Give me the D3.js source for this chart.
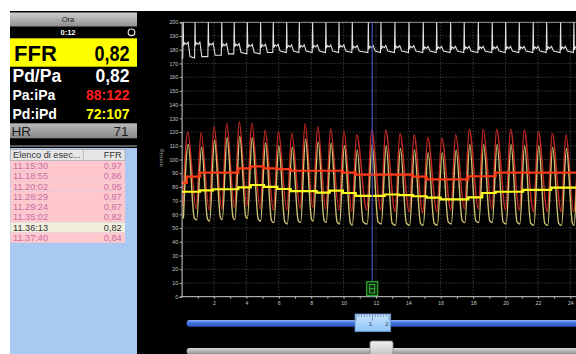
<!DOCTYPE html>
<html><head><meta charset="utf-8">
<script src="https://cdn.jsdelivr.net/npm/d3@7"></script>
<style>
html,body{margin:0;padding:0;background:#fff;}
svg{display:block;font-family:"Liberation Sans",Arial,Helvetica,sans-serif;}
</style></head><body>
<svg id="c" width="576" height="354"></svg>
<script>
// ---------------- DATA ----------------
// pressure-peak time of every beat (s)
const beatTimes = [0.38,1.20,2.00,2.78,3.56,4.33,5.15,5.97,6.80,7.62,8.40,9.20,10.02,10.81,11.73,12.60,13.48,14.35,15.19,16.06,16.92,17.76,18.62,19.45,20.31,21.15,22.02,22.88,23.73,24.50];
// ECG R-wave times (s)
const ecgR = [0.10,0.83,1.65,2.48,3.25,4.06,4.88,5.66,6.49,7.27,8.09,8.91,9.72,10.54,11.53,12.31,13.17,14.04,14.92,15.75,16.61,17.45,18.32,19.18,20.01,20.85,21.71,22.54,23.40,24.22];
const ecgBase = [174,174,175,176,177,177,177,178,178,178,178,178,178,178,178,178,178,178,178,178,178,178,178,178,178,178,178,178,178,178];
const ecgT    = [185,185,184.5,184,184,183.5,183.5,183.5,183,183,183,183,183,182.5,182.5,182.5,182.5,182.5,182,182,182,182,182,182,182,182,182,182,182,182];
// Pa (aortic) systolic / diastolic per beat
const paSys = [120,119.5,124,126.5,127.5,126.5,121.5,120.5,119,126,124,122.5,120.5,118,121.5,121.5,119,118,116,115.5,118,122,122,122,122,121.5,120.5,119,118,118];
const paDia = [66,64,63,64,65,66,64,63,63,64,65,64,63,62,63,63,62,62,61,62,63,64,64,64,63,63,62,62,62,62];
// Pd (distal) systolic / diastolic per beat
const pdSys = [111,109,114,116,117,116,112,110,109,115,113,112,110,107,111,110,108,107,105,105,107,111,111,111,111,110,110,109,108,108];
const pdDia = [57,56,55,56,56,57,55,54,53,54,55,54,53,52,53,53,52,52,52,52,53,54,54,54,53,53,52,52,52,52];
// running means (value after each beat)
const paMeanStart = 83;
const paMean = [87.5,90.5,90.5,90.5,93.5,95,93.5,93,91.8,91.8,91.8,91.8,90.5,89,89,89,89,87.5,85.5,85.5,85.5,87.8,87.8,90.5,90.5,90.5,90.5,90.5,90.5,90.5];
const pdMeanStart = 76.5;
const pdMean = [76.5,77.5,78.3,78.3,79.7,81.4,80,78.5,77,77,75.8,77.3,75.6,73.5,73.5,74.5,74,73.2,72.2,71,71,72.4,75.6,76.5,76.5,77.8,77.8,79.5,79.5,79.5];
const cursorTime = 11.77;
const xTickLabels = [2,4,6,8,10,12,14,16,18,20,22,24];
const yTickLabels = [0,10,20,30,40,50,60,70,80,90,100,110,120,130,140,150,160,170,180,190,200];
const yAxisTitle = "mmHg";
// side panel
const headerLabel = "Ora", timeLabel = "0:12";
const ffrLabel = "FFR", ffrValue = "0,82";
const metricLabels = ["Pd/Pa","Pa:iPa","Pd:iPd"];
const metricValues = ["0,82","88:122","72:107"];
const hrLabel = "HR", hrValue = "71";
const listHeader = ["Elenco di esec...","FFR"];
const runTimes = ["11.15:30","11.18:55","11.20:02","11.28:29","11.29:24","11.35:02","11.36:13","11.37:40"];
const runFFR = ["0,97","0,86","0,95","0,87","0,87","0,82","0,82","0,84"];
const selectedRun = 6;

// ---------------- DRAW ----------------
const svg = d3.select("#c");
const defs = svg.append("defs");
function grad(id, stops){
  const g = defs.append("linearGradient").attr("id",id).attr("x1",0).attr("y1",0).attr("x2",0).attr("y2",1);
  stops.forEach(s=>g.append("stop").attr("offset",s[0]).attr("stop-color",s[1]));
}
grad("gHdr",[[0,"#cfcfcf"],[1,"#8f8f8f"]]);
grad("gHr",[[0,"#b8b8b8"],[1,"#8a8a8a"]]);
grad("gBlue",[[0,"#9cb8f4"],[0.35,"#4a78e4"],[1,"#2a52c0"]]);
grad("gGray",[[0,"#d8d8d8"],[1,"#8c8c8c"]]);
grad("gThumb",[[0,"#f2f2f2"],[1,"#bdbdbd"]]);
grad("gRuler",[[0,"#c8e4fc"],[1,"#8ec2f4"]]);

svg.append("rect").attr("x",10).attr("y",11).attr("width",566).attr("height",343).attr("fill","#000");

// ---- left panel ----
const P = svg.append("g");
P.append("rect").attr("x",10).attr("y",12.5).attr("width",127).attr("height",14).attr("fill","url(#gHdr)");
P.append("text").attr("x",68).attr("y",22.3).attr("text-anchor","middle").attr("font-size",7.5).attr("fill","#1a1a1a").text(headerLabel);
P.append("text").attr("x",68).attr("y",35.3).attr("text-anchor","middle").attr("font-size",7.5).attr("font-weight","bold").attr("fill","#fff").text(timeLabel);
P.append("circle").attr("cx",131.5).attr("cy",32.3).attr("r",3.3).attr("fill","none").attr("stroke","#e6e6e6").attr("stroke-width",1.2);
P.append("rect").attr("x",10).attr("y",38.3).attr("width",127).attr("height",28.4).attr("fill","#ffff00");
P.append("text").attr("x",14).attr("y",61.3).attr("font-size",22).attr("font-weight","bold").attr("fill","#000").text(ffrLabel);
P.append("text").attr("x",94.5).attr("y",61.3).attr("font-size",22).attr("font-weight","bold").attr("fill","#000")
  .attr("textLength",35).attr("lengthAdjust","spacingAndGlyphs").text(ffrValue);
const mColors = ["#ffffff","#ff1e1e","#ffff00"];
const mY = [81.7,100.3,119];
const mSize = [17.5,14,14];
metricLabels.forEach((l,i)=>{
  P.append("text").attr("x",12.5).attr("y",mY[i]).attr("font-size",mSize[i]).attr("font-weight","bold").attr("fill","#fff").text(l);
  P.append("text").attr("x",129.5).attr("y",mY[i]).attr("text-anchor","end").attr("font-size",mSize[i]).attr("font-weight","bold").attr("fill",mColors[i]).text(metricValues[i]);
});
P.append("rect").attr("x",10).attr("y",123.3).attr("width",127).attr("height",15).attr("fill","url(#gHr)");
P.append("text").attr("x",11.5).attr("y",135.5).attr("font-size",13.5).attr("fill","#1e1e1e").text(hrLabel);
P.append("text").attr("x",128.5).attr("y",135.5).attr("text-anchor","end").attr("font-size",13.5).attr("fill","#1e1e1e").text(hrValue);
P.append("rect").attr("x",10).attr("y",145.3).attr("width",127).attr("height",1.5).attr("fill","#7a7a7a");
// list
P.append("rect").attr("x",10).attr("y",148).attr("width",127).attr("height",206).attr("fill","#a9c9f3");
P.append("rect").attr("x",10.5).attr("y",149.3).attr("width",114.5).attr("height",11.4).attr("fill","#e6e6e6").attr("stroke","#9a9a9a").attr("stroke-width",0.6);
P.append("line").attr("x1",83.3).attr("x2",83.3).attr("y1",149.3).attr("y2",160.7).attr("stroke","#9a9a9a").attr("stroke-width",0.6);
P.append("text").attr("x",13).attr("y",158.2).attr("font-size",9.2).attr("fill","#333").text(listHeader[0]);
P.append("text").attr("x",121.7).attr("y",158.2).attr("text-anchor","end").attr("font-size",9.2).attr("fill","#333").text(listHeader[1]);
const rowH = 10.24, row0 = 160.9;
runTimes.forEach((t,i)=>{
  const sel = i===selectedRun;
  P.append("rect").attr("x",10.5).attr("y",row0+i*rowH).attr("width",114.5).attr("height",rowH).attr("fill", sel?"#f1eedc":"#ffc8cd");
  const c = sel?"#303030":"#c56fa6";
  P.append("text").attr("x",13).attr("y",row0+i*rowH+8.3).attr("font-size",9.2).attr("fill",c).text(t);
  P.append("text").attr("x",121.7).attr("y",row0+i*rowH+8.3).attr("text-anchor","end").attr("font-size",9.2).attr("fill",c).text(runFFR[i]);
});

// ---- chart ----
const x = d3.scaleLinear().domain([0,24.35]).range([181.6,576]);
const y = d3.scaleLinear().domain([0,200]).range([296.7,22.3]);
defs.append("clipPath").attr("id","plot").append("rect")
  .attr("x",x(0)).attr("y",y(200)-1).attr("width",x(24.35)-x(0)).attr("height",y(0)-y(200)+1);
const G = svg.append("g");
// grid
G.append("g").selectAll("line").data(yTickLabels.filter(v=>v>0&&v<200)).join("line")
  .attr("x1",x(0)).attr("x2",x(24.35)).attr("y1",d=>y(d)).attr("y2",d=>y(d))
  .attr("stroke","#6a6a6a").attr("stroke-width",0.8).attr("stroke-dasharray","1,2");
G.append("g").selectAll("line").data(xTickLabels).join("line")
  .attr("x1",d=>x(d)).attr("x2",d=>x(d)).attr("y1",y(0)).attr("y2",y(200))
  .attr("stroke","#6a6a6a").attr("stroke-width",0.8).attr("stroke-dasharray","1,2");
G.append("line").attr("x1",x(0)).attr("x2",x(24.35)).attr("y1",y(200)).attr("y2",y(200)).attr("stroke","#9a9a9a").attr("stroke-width",1);

const W = G.append("g").attr("clip-path","url(#plot)");
// Pa waveform
const paPts = [];
beatTimes.forEach((t,i)=>{ paPts.push([t-0.30, paDia[i]]); paPts.push([t, paSys[i]]); });
const pdPts = [];
beatTimes.forEach((t,i)=>{
  pdPts.push([t-0.27, pdDia[i]]);
  pdPts.push([t+0.03, pdSys[i]]);
  const nd = i+1<pdDia.length ? pdDia[i+1] : pdDia[i];
  pdPts.push([t+0.40, nd+1.5]);
});
const ln = d3.line().x(d=>x(d[0])).y(d=>y(d[1]));
W.append("path").attr("d", ln.curve(d3.curveMonotoneX)(paPts)).attr("fill","none").attr("stroke","#c42a22").attr("stroke-width",1.5);
W.append("path").attr("d", ln.curve(d3.curveMonotoneX)(pdPts)).attr("fill","none").attr("stroke","#e2d47c").attr("stroke-width",1.4).attr("opacity",0.92);
// means
const stepLine = d3.line().x(d=>x(d[0])).y(d=>y(d[1])).curve(d3.curveStepAfter);
const paM = [[0,paMeanStart]].concat(beatTimes.map((t,i)=>[t-0.06,paMean[i]])).concat([[25,paMean[paMean.length-1]]]);
const pdM = [[0,pdMeanStart]].concat(beatTimes.map((t,i)=>[t-0.06,pdMean[i]])).concat([[25,pdMean[pdMean.length-1]]]);
W.append("path").attr("d",stepLine(paM)).attr("fill","none").attr("stroke","#ff3a16").attr("stroke-width",2.2);
W.append("path").attr("d",stepLine(pdM)).attr("fill","none").attr("stroke","#ffff1e").attr("stroke-width",2.2);
// ECG
const ecgPts = [[-0.2, ecgBase[0]]];
ecgR.forEach((r,i)=>{
  const b = ecgBase[i], T = ecgT[i];
  ecgPts.push([r-0.03,b],[r,200],[r+0.025,T-2],[r+0.1,T],[r+0.2,T-1],[r+0.3,T+0.5],[r+0.42,b+1]);
});
W.append("path").attr("d", ln.curve(d3.curveLinear)(ecgPts)).attr("fill","none").attr("stroke","#e2e2e2").attr("stroke-width",1.1);

// axes
const yAxis = G.append("g").attr("transform",`translate(${x(0)},0)`)
  .call(d3.axisLeft(y).tickValues(yTickLabels).tickSize(2).tickPadding(1.5));
const xAxis = G.append("g").attr("transform",`translate(0,${y(0)})`)
  .call(d3.axisBottom(x).tickValues(d3.range(1,25)).tickSize(2).tickPadding(2.5).tickFormat(d=>xTickLabels.includes(d)?d:""));
[yAxis,xAxis].forEach(a=>{
  a.selectAll("path.domain").attr("stroke","#d0d0d0").attr("stroke-width",1);
  a.selectAll(".tick line").attr("stroke","#bbbbbb");
  a.selectAll("text").attr("fill","#c8c8c8").attr("font-size",5.2).attr("font-family","'Liberation Sans',Arial,sans-serif");
});
xAxis.select("path.domain").attr("d",`M${x(0)},0H${x(24.35)}`);
G.append("text").attr("transform",`translate(163,158) rotate(-90)`).attr("text-anchor","middle")
  .attr("font-size",6).attr("fill","#9a9a9a").text(yAxisTitle);

// cursor
const cx = x(cursorTime);
G.append("line").attr("x1",cx).attr("x2",cx).attr("y1",y(200)).attr("y2",y(0)).attr("stroke","#4c4eb4").attr("stroke-width",1.2);
G.append("rect").attr("x",cx-5.5).attr("y",281.7).attr("width",11).attr("height",14).attr("fill","#0b2a0b").attr("stroke","#2fcf2f").attr("stroke-width",1);
G.append("rect").attr("x",cx-2.5).attr("y",284.5).attr("width",5).attr("height",8.5).attr("fill","none").attr("stroke","#49d649").attr("stroke-width",0.8);
G.append("line").attr("x1",cx-2.5).attr("x2",cx+2.5).attr("y1",288.7).attr("y2",288.7).attr("stroke","#49d649").attr("stroke-width",0.8);

// sliders
const S = svg.append("g");
S.append("rect").attr("x",186.7).attr("y",320).attr("width",400).attr("height",6.7).attr("rx",3).attr("fill","url(#gBlue)");
S.append("rect").attr("x",355).attr("y",314).attr("width",35.7).attr("height",17.7).attr("fill","url(#gRuler)").attr("stroke","#5d8fcf").attr("stroke-width",0.8);
const rs = d3.scaleLinear().domain([0,2]).range([356,389]);
d3.range(0,2.0001,1/6).forEach(v=>{
  const major = Math.abs(v-Math.round(v))<1e-6;
  S.append("line").attr("x1",rs(v)).attr("x2",rs(v)).attr("y1",314.5).attr("y2",314.5+(major?6:2.5)).attr("stroke","#3c5c94").attr("stroke-width",0.6);
});
[1,2].forEach(v=>S.append("text").attr("x",rs(v)-2).attr("y",326).attr("text-anchor","middle").attr("font-size",6).attr("fill","#2c4070").text(v));
S.append("rect").attr("x",186.7).attr("y",348).attr("width",400).attr("height",6.5).attr("rx",3).attr("fill","url(#gGray)");
S.append("rect").attr("x",370).attr("y",341).attr("width",23).attr("height",16).attr("rx",2).attr("fill","url(#gThumb)").attr("stroke","#8a8a8a").attr("stroke-width",0.8);
</script>
</body></html>
